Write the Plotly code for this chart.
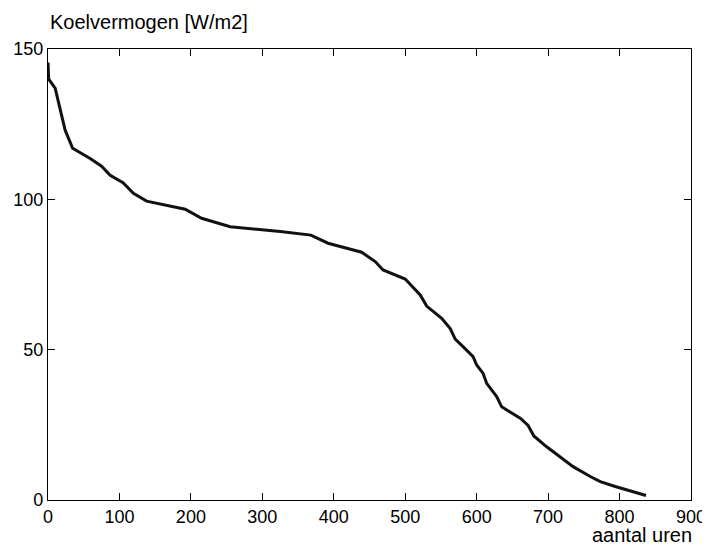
import plotly.graph_objects as go

hours = [0, 1, 10, 17, 24, 34.5, 59, 75, 87, 105, 119.5, 138, 192, 215, 255, 325, 368,
         392, 439, 458, 469, 500, 521, 530, 551, 563, 570, 583, 595, 600, 609, 614,
         628, 635, 661, 672, 680, 698, 717, 735, 759, 773, 794, 837]
power = [145.5, 140, 137, 130, 123, 117, 113.6, 111, 108, 105.5, 102, 99.4, 96.7, 93.7,
         90.9, 89.3, 88.1, 85.4, 82.4, 79.3, 76.5, 73.5, 68.2, 64.5, 60.4, 57, 53.5,
         50.5, 47.7, 44.9, 42.1, 38.8, 34.4, 31, 27.2, 24.8, 21.3, 17.7, 14.3, 11.1,
         7.8, 6.1, 4.5, 1.5]

x_ticks = [0, 100, 200, 300, 400, 500, 600, 700, 800, 900]
y_ticks = [0, 50, 100, 150]

font_family = "Liberation Sans, Arial, sans-serif"

fig = go.Figure()
fig.add_trace(go.Scatter(x=hours, y=power, mode="lines",
                         line=dict(color="#111111", width=3), showlegend=False))

axis_common = dict(showgrid=False, zeroline=False, showline=True, linecolor="black",
                   linewidth=1.3, mirror="ticks", ticks="inside", ticklen=7,
                   tickwidth=1, tickcolor="black", automargin=False,
                   tickfont=dict(family=font_family, size=18, color="black"))

fig.update_xaxes(range=[0, 900], tickvals=x_ticks, **axis_common)
fig.update_yaxes(range=[0, 150], tickvals=y_ticks, **axis_common)

# page body has an 8px default margin, so the figure is 8px smaller and offset
fig.update_layout(
    width=702, height=538,
    margin=dict(l=40, r=19, t=41, b=46),
    paper_bgcolor="white", plot_bgcolor="white",
    font=dict(family=font_family, size=18, color="black"),
    annotations=[
        dict(text="Koelvermogen [W/m2]", xref="paper", yref="paper", x=0, y=1.06,
             xanchor="left", yanchor="middle", showarrow=False,
             font=dict(family=font_family, size=20, color="black")),
        dict(text="aantal uren", xref="paper", yref="paper", x=1.004, y=-0.077,
             xanchor="right", yanchor="middle", showarrow=False,
             font=dict(family=font_family, size=20, color="black")),
    ],
)

fig.write_html("out.html")
